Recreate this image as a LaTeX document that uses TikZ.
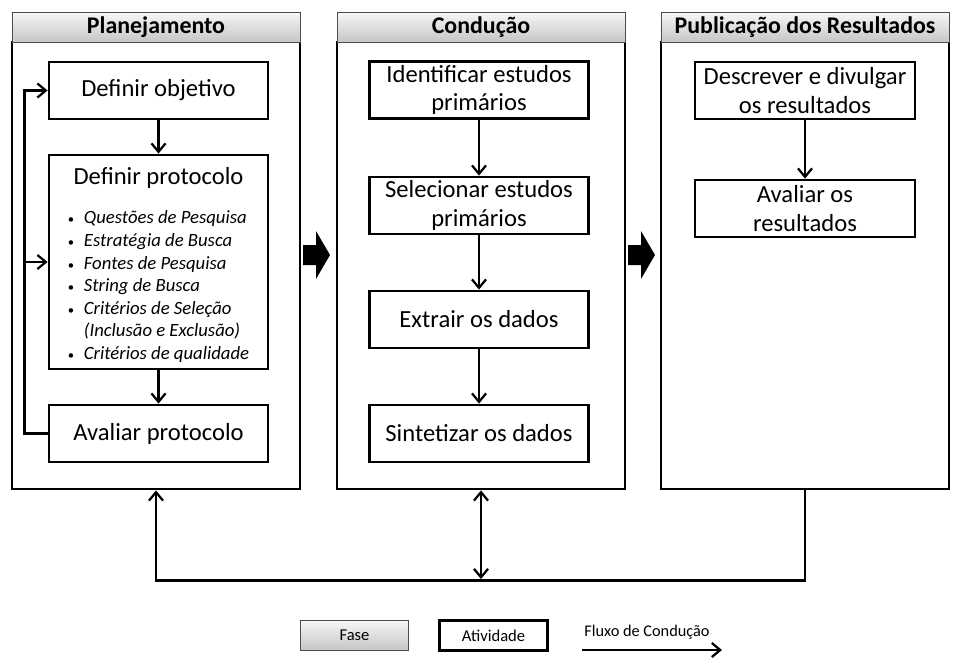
\documentclass[tikz,border=0pt]{standalone}
\usepackage{fontspec}
\setmainfont{Carlito}
\usepackage{tikz}
\usetikzlibrary{arrows.meta,positioning}

\tikzset{
  fase/.style={draw=black, line width=2pt, minimum width=288*0.025cm, minimum height=447*0.025cm, inner sep=0pt},
  cabec/.style={draw=gray!60!black, line width=0.6pt, top color=gray!6, bottom color=gray!45, minimum width=288*0.025cm, minimum height=30*0.025cm, inner sep=0pt, font=\fontsize{17}{19}\selectfont\bfseries},
  ativ/.style={draw=black, line width=2pt, fill=white, minimum width=219*0.025cm, minimum height=57*0.025cm, inner sep=0pt, align=center, font=\fontsize{17.5}{20.5}\selectfont},
  fluxo/.style={-{Straight Barb[length=6pt,width=10pt]}, line width=1.6pt},
  legenda/.style={minimum width=108*0.025cm, minimum height=30*0.025cm, inner sep=0pt, font=\fontsize{11.8}{13}\selectfont}
}

\begin{document}
\begin{tikzpicture}[x=0.025cm, y=-0.025cm]
    \useasboundingbox (0,0) rectangle (960,664);

    % fases
    \node[fase] (plan) at (156,265.5) {};
    \node[fase] (cond) at (481,265.5) {};
    \node[fase] (publ) at (805,265.5) {};
    \node[cabec] (planhead) at (156,27) {Planejamento};
    \node[cabec] (condhead) at (481,27) {Condução};
    \node[cabec] (publhead) at (805,27) {Publicação dos Resultados};

    % Planejamento
    \node[ativ] (objetivo) at (158.5,90.5) {Definir objetivo};
    \node[ativ, minimum height=214*0.025cm] (protocolo) at (158.5,262) {\rule{0pt}{19pt}Definir protocolo\\[13pt]
        \fontsize{13.3}{16.1}\selectfont
        \begin{tabular}{@{}l@{\hspace{7pt}}l@{}}
            \small\textbullet & \textit{Questões de Pesquisa}\\
            \small\textbullet & \textit{Estratégia de Busca}\\
            \small\textbullet & \textit{Fontes de Pesquisa}\\
            \small\textbullet & \textit{String de Busca}\\
            \small\textbullet & \textit{Critérios de Seleção}\\
                              & \textit{(Inclusão e Exclusão)}\\
            \small\textbullet & \textit{Critérios de qualidade}
        \end{tabular}};
    \node[ativ] (avaliar) at (158.5,433.5) {Avaliar protocolo};

    \draw[fluxo] (objetivo) -- (protocolo);
    \draw[fluxo] (protocolo) -- (avaliar);
    \draw[fluxo] (avaliar.west) -- ++(-23,0) |- (objetivo.west);
    \coordinate (retorno) at (26,262);
    \draw[fluxo] (retorno) -- (protocolo.west);

    % Conducao
    \node[ativ] (identificar) at (479,90) {Identificar estudos\\primários};
    \node[ativ] (selecionar) at (479,205.5) {Selecionar estudos\\primários};
    \node[ativ] (extrair) at (479,319.5) {Extrair os dados};
    \node[ativ] (sintetizar) at (479,433.5) {Sintetizar os dados};

    \draw[fluxo] (identificar) -- (selecionar);
    \draw[fluxo] (selecionar) -- (extrair);
    \draw[fluxo] (extrair) -- (sintetizar);

    % Publicacao
    \node[ativ, minimum width=220*0.025cm] (descrever) at (805,90.5) {Descrever e divulgar\\os resultados};
    \node[ativ, minimum width=220*0.025cm] (avaliarres) at (805,208.5) {Avaliar os\\resultados};

    \draw[fluxo] (descrever) -- (avaliarres);

    % setas entre fases
    \foreach \x in {303,628}
        \fill (\x,245) -- ++(13,0) -- ++(0,-14) -- ++(14,24) -- ++(-14,24) -- ++(0,-14) -- ++(-13,0) -- cycle;

    % retorno inferior
    \draw[fluxo] (publ.south) -- ++(0,90) -| (plan.south);
    \coordinate (juncao) at (481,579);
    \draw[fluxo, {Straight Barb[length=6pt,width=10pt]}-{Straight Barb[length=6pt,width=10pt]}] (cond.south) -- (juncao);

    % legenda
    \node[legenda, draw=gray!60!black, line width=0.6pt, top color=gray!6, bottom color=gray!45] (legfase) at (354.5,635) {Fase};
    \node[legenda, draw=black, line width=2pt] (legativ) at (493.5,635.5) {Atividade};
    \node[font=\fontsize{11.6}{13}\selectfont] (legfluxo) at (647,632) {Fluxo de Condução};
    \coordinate (fluxoini) at (582,650);
    \coordinate (fluxofim) at (722,650);
    \draw[fluxo] (fluxoini) -- (fluxofim);
\end{tikzpicture}
\end{document}
